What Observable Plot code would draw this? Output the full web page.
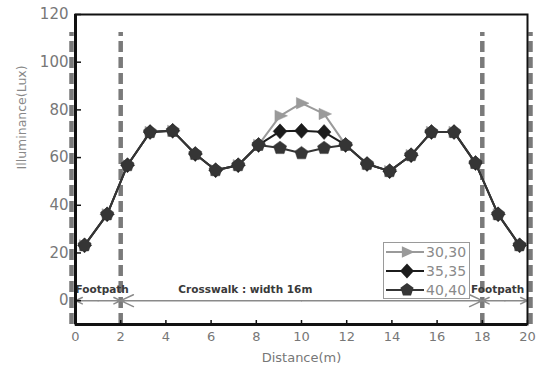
<!DOCTYPE html>
<html>
<head>
<meta charset="utf-8">
<script src="https://cdn.jsdelivr.net/npm/d3@7"></script>
<script src="https://cdn.jsdelivr.net/npm/@observablehq/plot@0.6"></script>
<style>
  html, body { margin: 0; padding: 0; background: #fff; }
  #wrap { position: relative; width: 541px; height: 375px; font-family: "DejaVu Sans", sans-serif; }
  #legend { position: absolute; left: 383px; top: 242px; width: 85px; height: 55px; border: 1px solid #9a9a9a; background: #fff; }
</style>
</head>
<body>
<div id="wrap"></div>
<script>
// ---- data ----
const distance = [0.4, 1.4, 2.3, 3.3, 4.3, 5.3, 6.2, 7.2, 8.1, 9.05, 10, 11, 11.95, 12.9, 13.9, 14.85, 15.75, 16.75, 17.7, 18.7, 19.65];
const lux3030 = [23.2, 36.2, 56.8, 70.7, 71.2, 61.5, 54.7, 56.8, 65.3, 77.5, 82.8, 78.3, 65.3, 57.3, 54.3, 61, 70.7, 70.7, 57.7, 36.2, 23.2];
const lux3535 = [23.2, 36.2, 56.8, 70.7, 71.2, 61.5, 54.7, 56.8, 65.3, 71, 71.2, 70.7, 65.3, 57.3, 54.3, 61, 70.7, 70.7, 57.7, 36.2, 23.2];
const lux4040 = [23.2, 36.2, 56.8, 70.7, 71.2, 61.5, 54.7, 56.8, 65.3, 64, 61.8, 64, 65.3, 57.3, 54.3, 61, 70.7, 70.7, 57.7, 36.2, 23.2];
const seriesNames = ["30,30", "35,35", "40,40"];
const xTicks = [0, 2, 4, 6, 8, 10, 12, 14, 16, 18, 20];
const yTicks = [0, 20, 40, 60, 80, 100, 120];
const xTitle = "Distance(m)";
const yTitle = "Illuminance(Lux)";
const innerBoundaries = [2, 18];
const outerBoundaries = [0, 20];
const boundaryTop = 112.4;
const segFrom = [0, 2, 18];
const segTo = [2, 18, 20];
const segLabels = ["Footpath", "Crosswalk : width 16m", "Footpath"];
const segLabelX = [0, 4.55, 17.5];

// ---- build tables ----
const seriesValues = [lux3030, lux3535, lux4040];
const rows = seriesNames.flatMap((name, i) => distance.map((d, j) => ({name, x: d, y: seriesValues[i][j]})));
const segments = segFrom.map((f, i) => ({from: f, to: segTo[i], mid: (f + segTo[i]) / 2, label: segLabels[i], lx: segLabelX[i]}));

// ---- custom symbols ----
const triRight = {draw(ctx, size) { const r = Math.sqrt(size / Math.PI); ctx.moveTo(r * 1.25, 0); ctx.lineTo(-r * 0.85, -r * 0.95); ctx.lineTo(-r * 0.85, r * 0.95); ctx.closePath(); }};
const diamond = {draw(ctx, size) { const r = Math.sqrt(size / Math.PI); ctx.moveTo(0, -r * 1.25); ctx.lineTo(r * 1.15, 0); ctx.lineTo(0, r * 1.25); ctx.lineTo(-r * 1.15, 0); ctx.closePath(); }};
const pentagon = {draw(ctx, size) { const r = Math.sqrt(size / Math.PI) * 1.15; for (let k = 0; k < 5; k++) { const a = -Math.PI / 2 + k * 2 * Math.PI / 5; const px = r * Math.cos(a), py = r * Math.sin(a); if (k === 0) ctx.moveTo(px, py); else ctx.lineTo(px, py); } ctx.closePath(); }};
const symbols = [triRight, diamond, pentagon];
const colors = ["#9a9a9a", "#1c1c1c", "#353535"];

const seriesMarks = seriesNames.flatMap((name, i) => {
  const data = rows.filter(r => r.name === name);
  return [
    Plot.line(data, {x: "x", y: "y", stroke: colors[i], strokeWidth: 2}),
    Plot.dot(data, {x: "x", y: "y", symbol: symbols[i], r: 6, fill: colors[i], stroke: colors[i], strokeWidth: 0.5})
  ];
});

const arrowStyle = {y1: 0, y2: 0, stroke: "#8a8a8a", strokeWidth: 1.5, headLength: 14, headAngle: 50};
const dashStyle = {y1: -10, y2: boundaryTop, stroke: "#7a7a7a", strokeWidth: 4.5, strokeDasharray: "11,5"};

const chart = Plot.plot({
  width: 541,
  height: 375,
  marginLeft: 75,
  marginRight: 14,
  marginTop: 14,
  marginBottom: 51,
  style: {fontFamily: "DejaVu Sans, sans-serif", background: "#fff", overflow: "visible"},
  x: {domain: [0, 20], label: null},
  y: {domain: [-10, 120], label: null},
  marks: [
    Plot.ruleX(innerBoundaries, dashStyle),
    Plot.ruleX(outerBoundaries.slice(0, 1), {...dashStyle, dx: -4}),
    Plot.ruleX(outerBoundaries.slice(1), {...dashStyle, dx: 3}),
    Plot.arrow(segments, {x1: "mid", x2: "to", ...arrowStyle}),
    Plot.arrow(segments, {x1: "mid", x2: "from", ...arrowStyle}),
    Plot.text(segments, {x: "lx", y: 0, text: "label", textAnchor: "start", dy: -11, fill: "#3a3a3a", fontWeight: "bold", fontSize: 10.5}),
    ...seriesMarks,
    Plot.frame({stroke: "#111", strokeWidth: 2}),
    Plot.ruleX([0], {stroke: "#111", strokeWidth: 3}),
    Plot.ruleY([-10], {stroke: "#111", strokeWidth: 3}),
    Plot.axisY({ticks: yTicks, tickSize: -6, tickPadding: 13, stroke: "#111", strokeWidth: 1.5, fill: "#777", fontSize: 15, label: null}),
    Plot.axisX({ticks: xTicks, tickSize: -4, tickPadding: 11, stroke: "#111", strokeWidth: 1.5, fill: "#777", fontSize: 13, label: null}),
    Plot.text([yTitle], {frameAnchor: "left", rotate: -90, dx: -54, fill: "#888", fontSize: 12.5}),
    Plot.text([xTitle], {frameAnchor: "bottom", dy: 37, fill: "#777", fontSize: 13})
  ]
});
document.getElementById("wrap").appendChild(chart);

// ---- legend ----
const legend = document.createElement("div");
legend.id = "legend";
document.getElementById("wrap").appendChild(legend);
const lsvg = d3.select(legend).append("svg").attr("width", 85).attr("height", 55);
seriesNames.forEach((name, i) => {
  const cy = 9 + i * 19;
  lsvg.append("line").attr("x1", 2).attr("x2", 40).attr("y1", cy).attr("y2", cy).attr("stroke", colors[i]).attr("stroke-width", 2);
  lsvg.append("path").attr("d", d3.symbol(symbols[i], Math.PI * 6 * 6)()).attr("transform", `translate(23,${cy})`).attr("fill", colors[i]);
  lsvg.append("text").attr("x", 42).attr("y", cy).attr("dy", "0.36em").attr("fill", "#8a8a8a").attr("font-size", 14).attr("font-family", "DejaVu Sans, sans-serif").text(name);
});
</script>
</body>
</html>
